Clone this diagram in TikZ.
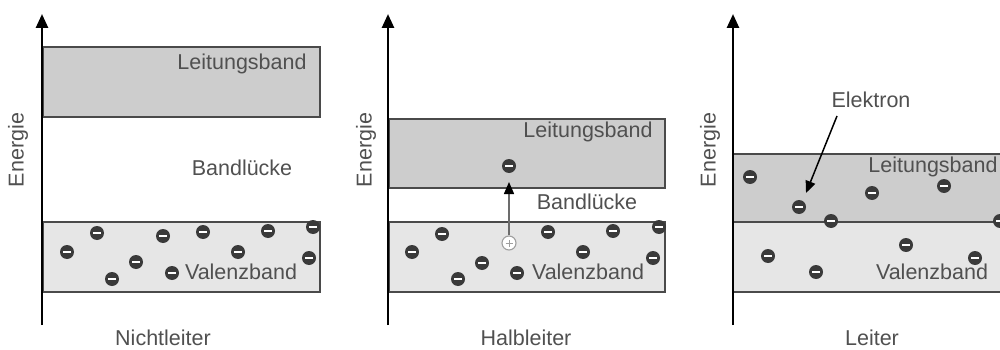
\documentclass[tikz,border=0pt]{standalone}
\usepackage{fontspec}
\setmainfont{Liberation Sans}
\usetikzlibrary{arrows.meta}
\definecolor{txt}{HTML}{505050}
\definecolor{cband}{HTML}{CDCDCD}
\definecolor{vband}{HTML}{E6E6E6}
\definecolor{edge}{HTML}{4A4A4A}
\definecolor{elec}{HTML}{3A3A3A}
\begin{document}
\begin{tikzpicture}[x=1pt,y=-1pt,
  lbl/.style={text=txt,font=\fontsize{21.5}{24}\selectfont,inner sep=0pt},
  axis/.style={line width=2.6pt,-{Triangle[length=14pt,width=12pt]}},
  band/.style={draw=edge,line width=1.8pt},
  electron/.style={circle,fill=elec,minimum size=14pt,inner sep=0pt,
    path picture={\draw[white,line width=1.5pt]([xshift=-3.6pt]path picture bounding box.center)--([xshift=3.6pt]path picture bounding box.center);}},
  hole/.style={circle,draw=gray!75,fill=white,line width=1.1pt,minimum size=14pt,inner sep=0pt,
    path picture={\draw[gray!75,line width=1pt]([xshift=-3.5pt]path picture bounding box.center)--([xshift=3.5pt]path picture bounding box.center)
      ([yshift=-3.5pt]path picture bounding box.center)--([yshift=3.5pt]path picture bounding box.center);}},
  pointer/.style={line width=1.5pt,-{Triangle[length=12pt,width=10pt,color=black]}}
]
\useasboundingbox (0,0) rectangle (1000,350);

% ---------- Panel 1: Nichtleiter ----------
\fill[cband] (43,47) rectangle (320,117);
\draw[band] (43,47) rectangle (320,117);
\fill[vband] (43,222) rectangle (320,292);
\draw[band] (43,222) rectangle (320,292);
\coordinate (a1b) at (42,325);
\coordinate (a1t) at (42,14);
\draw[axis] (a1b) -- (a1t);
\node[lbl,rotate=90] (en1) at (18,150) {Energie};
\node[lbl] (lb1) at (242,64) {Leitungsband};
\node[lbl] (gap1) at (242,168) {Bandlücke};
\node[lbl] (vb1) at (241,272) {Valenzband};
\node[lbl] (t1) at (163,338) {Nichtleiter};
\foreach \x/\y [count=\i] in {67/252,97/233,112/279,136/262,163/236,172/273,203/232,238/252,268/231,313/227,309/258}
  \node[electron] (p1e\i) at (\x,\y) {};

% ---------- Panel 2: Halbleiter ----------
\fill[cband] (389,119) rectangle (665,188);
\draw[band] (389,119) rectangle (665,188);
\fill[vband] (389,222) rectangle (665,292);
\draw[band] (389,222) rectangle (665,292);
\coordinate (a2b) at (388,325);
\coordinate (a2t) at (388,14);
\draw[axis] (a2b) -- (a2t);
\node[lbl,rotate=90] (en2) at (366,150) {Energie};
\node[lbl] (lb2) at (588,132) {Leitungsband};
\node[lbl] (gap2) at (587,202) {Bandlücke};
\node[lbl] (vb2) at (588,272) {Valenzband};
\node[lbl] (t2) at (526,338) {Halbleiter};
\foreach \x/\y [count=\i] in {412/252,442/234,458/279,482/263,517/273,548/232,583/252,613/231,659/227,653/258}
  \node[electron] (p2e\i) at (\x,\y) {};
\node[electron] (p2ec) at (509,166) {};
\node[hole] (p2h) at (509,243) {};
\coordinate (p2tip) at (509,182);
\draw[pointer,draw=gray!85!black] (p2h) -- (p2tip);

% ---------- Panel 3: Leiter ----------
\fill[cband] (733,154) rectangle (1012,222);
\fill[vband] (733,222) rectangle (1012,292);
\draw[band] (1012,154) -- (733,154) -- (733,292) -- (1012,292);
\draw[band] (733,222) -- (1012,222);
\coordinate (a3b) at (733,325);
\coordinate (a3t) at (733,14);
\draw[axis] (a3b) -- (a3t);
\node[lbl,rotate=90] (en3) at (710,150) {Energie};
\node[lbl] (lb3) at (933,167) {Leitungsband};
\node[lbl] (vb3) at (932,272) {Valenzband};
\node[lbl] (t3) at (872,338) {Leiter};
\node[lbl] (el) at (871,100) {Elektron};
\foreach \x/\y [count=\i] in {750/177,799/207,831/221,872/193,944/186,1000/221,768/256,816/272,906/245,975/258}
  \node[electron] (p3e\i) at (\x,\y) {};
\coordinate (elstart) at (837,116);
\coordinate (eltip) at (806,193);
\draw[pointer] (elstart) -- (eltip);
\end{tikzpicture}
\end{document}
